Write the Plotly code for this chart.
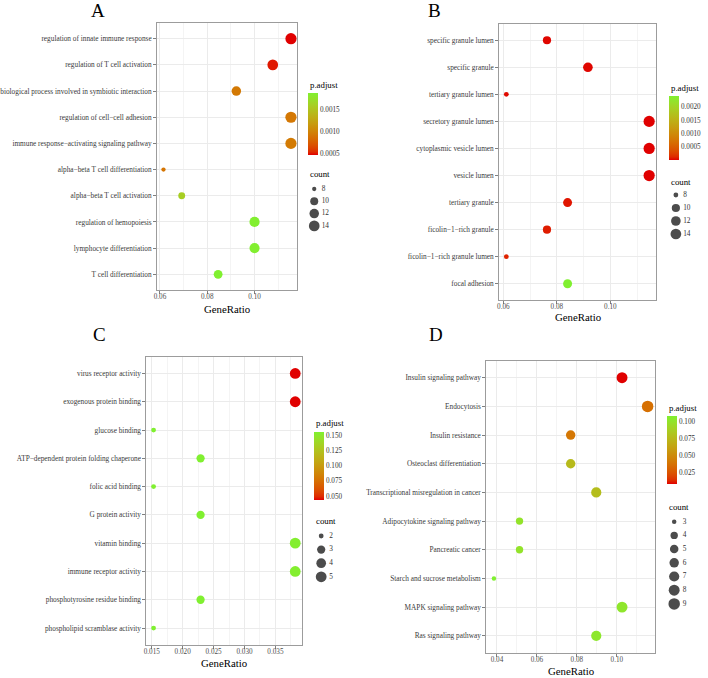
import math
import plotly.graph_objects as go

# ---------------- DATA ----------------
a_terms = ["regulation of innate immune response", "regulation of T cell activation",
           "biological process involved in symbiotic interaction", "regulation of cell\u2212cell adhesion",
           "immune response\u2212activating signaling pathway", "alpha\u2212beta T cell differentiation",
           "alpha\u2212beta T cell activation", "regulation of hemopoiesis", "lymphocyte differentiation",
           "T cell differentiation"]
a_ratio = [0.1154, 0.1077, 0.0923, 0.1154, 0.1154, 0.0615, 0.0692, 0.1000, 0.1000, 0.0846]
a_count = [15, 14, 12, 15, 15, 8, 9, 13, 13, 11]
a_padj = [0.00046, 0.00050, 0.00093, 0.00092, 0.00094, 0.00090, 0.00160, 0.00188, 0.00188, 0.00189]
a_xticks = [0.06, 0.08, 0.10]
a_cticks = [0.0005, 0.0010, 0.0015]
a_sizes = [8, 10, 12, 14]

b_terms = ["specific granule lumen", "specific granule", "tertiary granule lumen", "secretory granule lumen",
           "cytoplasmic vesicle lumen", "vesicle lumen", "tertiary granule", "ficolin\u22121\u2212rich granule",
           "ficolin\u22121\u2212rich granule lumen", "focal adhesion"]
b_ratio = [0.0763, 0.0916, 0.0611, 0.1145, 0.1145, 0.1145, 0.0840, 0.0763, 0.0611, 0.0840]
b_count = [10, 12, 8, 15, 15, 15, 11, 10, 8, 11]
b_padj = [0.00002, 0.00002, 0.00003, 0.000002, 0.000002, 0.000003, 0.00006, 0.00008, 0.00010, 0.00240]
b_xticks = [0.06, 0.08, 0.10]
b_cticks = [0.0005, 0.0010, 0.0015, 0.0020]
b_sizes = [8, 10, 12, 14]

c_terms = ["virus receptor activity", "exogenous protein binding", "glucose binding",
           "ATP\u2212dependent protein folding chaperone", "folic acid binding", "G protein activity",
           "vitamin binding", "immune receptor activity", "phosphotyrosine residue binding",
           "phospholipid scramblase activity"]
c_ratio = [0.0382, 0.0382, 0.0153, 0.0229, 0.0153, 0.0229, 0.0382, 0.0382, 0.0229, 0.0153]
c_count = [5, 5, 2, 3, 2, 3, 5, 5, 3, 2]
c_padj = [0.0440, 0.0440, 0.1555, 0.1555, 0.1555, 0.1555, 0.1540, 0.1540, 0.1555, 0.1555]
c_xticks = [0.015, 0.020, 0.025, 0.030, 0.035]
c_cticks = [0.050, 0.075, 0.100, 0.125, 0.150]
c_sizes = [2, 3, 4, 5]

d_terms = ["Insulin signaling pathway", "Endocytosis", "Insulin resistance", "Osteoclast differentiation",
           "Transcriptional misregulation in cancer", "Adipocytokine signaling pathway", "Pancreatic cancer",
           "Starch and sucrose metabolism", "MAPK signaling pathway", "Ras signaling pathway"]
d_ratio = [0.1026, 0.1154, 0.0769, 0.0769, 0.0897, 0.0513, 0.0513, 0.0385, 0.1026, 0.0897]
d_count = [8, 9, 6, 6, 7, 4, 4, 3, 8, 7]
d_padj = [0.0084, 0.0370, 0.0400, 0.0760, 0.0780, 0.1000, 0.1000, 0.1084, 0.1020, 0.1030]
d_xticks = [0.04, 0.06, 0.08, 0.10]
d_cticks = [0.025, 0.050, 0.075, 0.100]
d_sizes = [3, 4, 5, 6, 7, 8, 9]

panel_letters = ["A", "B", "C", "D"]

# ---------------- STYLE ----------------
W, H = 708, 678
FONT = "Liberation Serif, Times New Roman, serif"
LOW, HIGH = "#E00000", "#80F030"


def hex_rgb(h):
    h = h.lstrip("#")
    return [int(h[i:i + 2], 16) for i in (0, 2, 4)]


def to_lab(rgb):
    def lin(c):
        c = c / 255.0
        return c / 12.92 if c <= 0.04045 else ((c + 0.055) / 1.055) ** 2.4
    r, g, b = [lin(c) for c in rgb]
    X = (0.4124 * r + 0.3576 * g + 0.1805 * b) / 0.95047
    Y = (0.2126 * r + 0.7152 * g + 0.0722 * b)
    Z = (0.0193 * r + 0.1192 * g + 0.9505 * b) / 1.08883

    def f(t):
        return t ** (1 / 3) if t > 0.008856 else 7.787 * t + 16 / 116
    return [116 * f(Y) - 16, 500 * (f(X) - f(Y)), 200 * (f(Y) - f(Z))]


def from_lab(lab):
    L, a, b = lab
    fy = (L + 16) / 116
    fx = fy + a / 500
    fz = fy - b / 200

    def finv(t):
        return t ** 3 if t ** 3 > 0.008856 else (t - 16 / 116) / 7.787
    X, Y, Z = finv(fx) * 0.95047, finv(fy), finv(fz) * 1.08883
    r = 3.2406 * X - 1.5372 * Y - 0.4986 * Z
    g = -0.9689 * X + 1.8758 * Y + 0.0415 * Z
    bb = 0.0557 * X - 0.2040 * Y + 1.0570 * Z

    def gam(c):
        c = max(0.0, min(1.0, c))
        v = 12.92 * c if c <= 0.0031308 else 1.055 * c ** (1 / 2.4) - 0.055
        return int(round(max(0, min(1, v)) * 255))
    return "rgb(%d,%d,%d)" % (gam(r), gam(g), gam(bb))


l0, l1 = to_lab(hex_rgb(LOW)), to_lab(hex_rgb(HIGH))
colorscale = []
for i in range(21):
    t = i / 20
    colorscale.append([t, from_lab([l0[k] + (l1[k] - l0[k]) * t for k in range(3)])])


def px(x):
    return x / W


def py(y):
    return 1 - y / H


# layout specs (pixel positions)
specs = [
    dict(terms=a_terms, ratio=a_ratio, count=a_count, padj=a_padj, xticks=a_xticks, cticks=a_cticks,
         sizes=a_sizes, box=(154, 295, 23, 290), dmin=4.3, dmax=11.2, cfmt="%.4f", xfmt="%.2f", dt=0.02,
         letter=(95, 11), title=(224, 309), cbar=(306, 93, 62), cb_title=(306, 85), cnt_title=(306, 174),
         leg=(312, 189, 12.3, 319.5)),
    dict(terms=b_terms, ratio=b_ratio, count=b_count, padj=b_padj, xticks=b_xticks, cticks=b_cticks,
         sizes=b_sizes, box=(498, 656, 24, 300), dmin=4.8, dmax=11.2, cfmt="%.4f", xfmt="%.2f", dt=0.02,
         letter=(433, 11), title=(577, 317), cbar=(669, 96, 64), cb_title=(669, 88), cnt_title=(669, 182),
         leg=(675.7, 195, 13.0, 683)),
    dict(terms=c_terms, ratio=c_ratio, count=c_count, padj=c_padj, xticks=c_xticks, cticks=c_cticks,
         sizes=c_sizes, box=(143.3, 300, 356.5, 645), dmin=4.8, dmax=10.8, cfmt="%.3f", xfmt="%.3f", dt=0.005,
         letter=(96, 335), title=(221, 663), cbar=(312, 431.7, 67.6), cb_title=(312, 423), cnt_title=(312, 521),
         leg=(319, 536, 13.6, 327)),
    dict(terms=d_terms, ratio=d_ratio, count=d_count, padj=d_padj, xticks=d_xticks, cticks=d_cticks,
         sizes=d_sizes, box=(485, 655, 360.5, 653), dmin=4.5, dmax=11.5, cfmt="%.3f", xfmt="%.2f", dt=0.02,
         letter=(434, 335), title=(570, 671), cbar=(667, 416, 68), cb_title=(667, 408), cnt_title=(667, 507),
         leg=(674, 521.7, 13.7, 682.7)),
]

fig = go.Figure()
annotations = []
layout = dict(width=W, height=H, margin=dict(l=0, r=0, t=0, b=0), paper_bgcolor="white",
              plot_bgcolor="white", showlegend=False, font=dict(family=FONT, color="#333333"))

for i, s in enumerate(specs):
    n = i + 1
    cmin_c, cmax_c = min(s["count"]), max(s["count"])

    def dia(c, s=s, lo=cmin_c, hi=cmax_c):
        return s["dmin"] + (s["dmax"] - s["dmin"]) * math.sqrt((c - lo) / (hi - lo))

    x0, x1, y0, y1 = s["box"]
    rmin, rmax = min(s["ratio"]), max(s["ratio"])
    pad = 0.05 * (rmax - rmin)
    cmin, cmax = min(s["padj"]), max(s["padj"])
    ca = "coloraxis" if n == 1 else "coloraxis%d" % n

    fig.add_trace(go.Scatter(
        x=s["ratio"], y=s["terms"], mode="markers",
        xaxis="x%d" % n, yaxis="y%d" % n,
        marker=dict(size=[dia(c) for c in s["count"]], color=s["padj"], coloraxis=ca,
                    line=dict(width=0), opacity=1),
        hoverinfo="skip"))

    xa = dict(domain=[px(x0), px(x1)], range=[rmin - pad, rmax + pad], anchor="y%d" % n,
              tickvals=s["xticks"], ticktext=[s["xfmt"] % v for v in s["xticks"]],
              showgrid=True, gridcolor="#EBEBEB", gridwidth=1,
              minor=dict(dtick=s["dt"] / 2, tick0=0, showgrid=True, gridcolor="#F4F4F4", gridwidth=0.6),
              showline=True, linecolor="#9C9C9C", linewidth=1, mirror=True,
              ticks="outside", ticklen=3, tickcolor="#7F7F7F", tickwidth=0.8, ticklabelstandoff=-4,
              tickfont=dict(family=FONT, size=7.2, color="#4D4D4D"), zeroline=False, fixedrange=True)
    ya = dict(domain=[py(y1), py(y0)], type="category", categoryorder="array", categoryarray=s["terms"],
              range=[len(s["terms"]) - 0.4, -0.6], anchor="x%d" % n,
              showgrid=True, gridcolor="#EBEBEB", gridwidth=1,
              showline=True, linecolor="#9C9C9C", linewidth=1, mirror=True,
              ticks="outside", ticklen=3, tickcolor="#7F7F7F", tickwidth=0.8,
              tickfont=dict(family=FONT, size=7.3, color="#3A3A3A"), zeroline=False, fixedrange=True)
    layout["xaxis" if n == 1 else "xaxis%d" % n] = xa
    layout["yaxis" if n == 1 else "yaxis%d" % n] = ya

    cbx, cby, cblen = s["cbar"]
    layout[ca] = dict(
        cmin=cmin, cmax=cmax, colorscale=colorscale,
        colorbar=dict(x=px(cbx), xanchor="left", y=py(cby), yanchor="top", len=cblen, lenmode="pixels",
                      thickness=10, thicknessmode="pixels", outlinewidth=0, xpad=0, ypad=0,
                      tickvals=s["cticks"], ticktext=[s["cfmt"] % v for v in s["cticks"]], ticks="",
                      tickfont=dict(family=FONT, size=7.2, color="#333333")))

    # panel letter
    annotations.append(dict(text=panel_letters[i], x=px(s["letter"][0]), y=py(s["letter"][1]), xref="paper",
                            yref="paper", showarrow=False, xanchor="center", yanchor="middle",
                            font=dict(family=FONT, size=19, color="#000000")))
    annotations.append(dict(text="GeneRatio", x=px(s["title"][0]), y=py(s["title"][1]), xref="paper",
                            yref="paper", showarrow=False, xanchor="center", yanchor="middle",
                            font=dict(family=FONT, size=10.8, color="#000000")))
    annotations.append(dict(text="p.adjust", x=px(s["cb_title"][0]), y=py(s["cb_title"][1]), xref="paper",
                            yref="paper", showarrow=False, xanchor="left", yanchor="middle",
                            font=dict(family=FONT, size=8.8, color="#000000")))
    annotations.append(dict(text="count", x=px(s["cnt_title"][0]), y=py(s["cnt_title"][1]), xref="paper",
                            yref="paper", showarrow=False, xanchor="left", yanchor="middle",
                            font=dict(family=FONT, size=8.8, color="#000000")))

    # size legend in a hidden axis pair
    m = n + 4
    dot_x, first_y, sp, lab_x = s["leg"]
    k = len(s["sizes"])
    fig.add_trace(go.Scatter(
        x=[0] * k, y=list(range(k)), mode="markers", xaxis="x%d" % m, yaxis="y%d" % m,
        marker=dict(size=[dia(c) for c in s["sizes"]], color="black", line=dict(width=0)),
        hoverinfo="skip"))
    fig.add_trace(go.Scatter(
        x=[lab_x - dot_x] * k, y=list(range(k)), mode="text", xaxis="x%d" % m, yaxis="y%d" % m,
        text=[str(c) for c in s["sizes"]], textposition="middle right",
        textfont=dict(family=FONT, size=7.3, color="#333333"), hoverinfo="skip"))
    layout["xaxis%d" % m] = dict(domain=[px(dot_x - 8), px(dot_x + 30)], range=[-8, 30], visible=False,
                                 anchor="y%d" % m, fixedrange=True)
    layout["yaxis%d" % m] = dict(domain=[py(first_y + (k - 0.5) * sp), py(first_y - sp / 2)],
                                 range=[k - 0.5, -0.5], visible=False, anchor="x%d" % m, fixedrange=True)

layout["annotations"] = annotations
fig.update_layout(**layout)
fig.write_html("out.html")
